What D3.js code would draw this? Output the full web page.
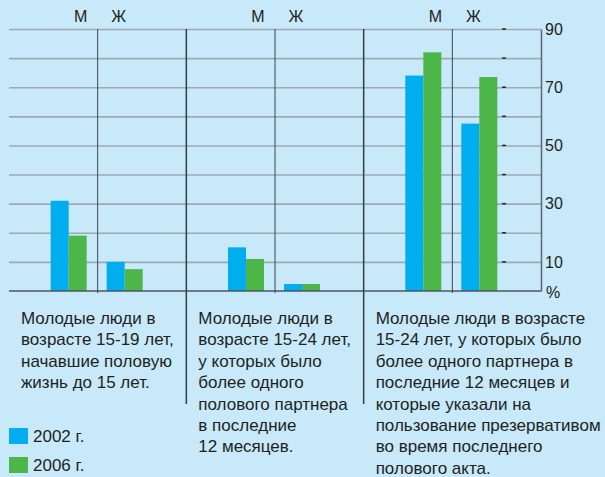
<!DOCTYPE html>
<html>
<head>
<meta charset="utf-8">
<script src="https://cdn.jsdelivr.net/npm/d3@7"></script>
<style>
  body { margin: 0; background: #c7e9f9; }
  svg { display: block; font-family: "Liberation Sans", Arial, sans-serif; }
</style>
</head>
<body>
<script>
// data
var groups = [0, 1, 2];
var sexes = ["М", "Ж"];
var years = ["2002 г.", "2006 г."];
var values2002 = [[31, 10], [15, 2.4], [74, 57.5]];
var values2006 = [[19, 7.5], [11, 2.4], [82, 73.5]];
var yTicks = [10, 30, 50, 70, 90];
var groupText = [
  ["Молодые люди в", "возрасте 15-19 лет,", "начавшие половую", "жизнь до 15 лет."],
  ["Молодые люди в", "возрасте 15-24 лет,", "у которых было", "более одного", "полового партнера", "в последние", "12 месяцев."],
  ["Молодые люди в возрасте", "15-24 лет, у которых было", "более одного партнера в", "последние 12 месяцев и", "которые указали на", "пользование презервативом", "во время последнего", "полового акта."]
];
var colors = ["#00aeef", "#4cb748"];

var svg = d3.select("body").append("svg")
    .attr("width", 605)
    .attr("height", 477);

var x0 = d3.scaleBand().domain(groups).range([9, 541]);
var bw = x0.bandwidth();
var xSex = d3.scalePoint().domain(sexes).range([bw / 2 - 29, bw / 2 + 27]);
var xYear = d3.scaleBand().domain(years).range([-18, 18]);
var y = d3.scaleLinear().domain([0, 90]).range([291, 29]);

var rows = [];
groups.forEach(function(g) {
  sexes.forEach(function(s, j) {
    rows.push({group: g, sex: s, vals: [values2002[g][j], values2006[g][j]]});
  });
});

// grid lines
svg.append("g")
    .attr("class", "grid")
    .attr("transform", "translate(541,0)")
    .call(d3.axisLeft(y).tickValues(d3.range(10, 100, 10)).tickSize(541 - 9).tickFormat(""))
    .call(function(g) { g.select(".domain").remove(); })
    .selectAll("line")
      .attr("stroke", "#9ea9b1")
      .attr("stroke-width", 1.6);

// small dashes near the axis
svg.append("g")
    .selectAll("line")
    .data(d3.range(10, 100, 10))
    .enter().append("line")
      .attr("x1", 502).attr("x2", 506)
      .attr("y1", function(d) { return y(d); })
      .attr("y2", function(d) { return y(d); })
      .attr("stroke", "#2a2a2a")
      .attr("stroke-width", 1.5);

// bars
var bar = svg.append("g").selectAll("g")
    .data(rows)
    .enter().append("g")
      .attr("transform", function(d) { return "translate(" + (x0(d.group) + xSex(d.sex)) + ",0)"; });

bar.selectAll("rect")
    .data(function(d) { return d.vals.map(function(v, i) { return {year: years[i], value: v, i: i}; }); })
    .enter().append("rect")
      .attr("x", function(d) { return xYear(d.year); })
      .attr("width", xYear.bandwidth())
      .attr("y", function(d) { return y(d.value); })
      .attr("height", function(d) { return y(0) - y(d.value); })
      .attr("fill", function(d) { return colors[d.i]; });

// baseline
svg.append("line")
    .attr("x1", 9).attr("x2", 541)
    .attr("y1", y(0)).attr("y2", y(0))
    .attr("stroke", "#4b5560")
    .attr("stroke-width", 1.6);

// dividers between М and Ж
svg.append("g").selectAll("line")
    .data(groups)
    .enter().append("line")
      .attr("x1", function(d) { return x0(d) + bw / 2; })
      .attr("x2", function(d) { return x0(d) + bw / 2; })
      .attr("y1", y(90)).attr("y2", y(0) + 2)
      .attr("stroke", "#3c4650")
      .attr("stroke-width", 1);

// dividers between groups
svg.append("g").selectAll("line")
    .data(groups.slice(1))
    .enter().append("line")
      .attr("x1", function(d) { return x0(d); })
      .attr("x2", function(d) { return x0(d); })
      .attr("y1", y(90)).attr("y2", 404)
      .attr("stroke", "#333d47")
      .attr("stroke-width", 1.5);

// y axis on the right
var yAxis = svg.append("g")
    .attr("transform", "translate(541,0)")
    .call(d3.axisRight(y).tickValues(yTicks).tickSize(0).tickPadding(4));
yAxis.select(".domain").attr("stroke", "#5d6873").attr("stroke-width", 1.5);
yAxis.selectAll("text")
    .attr("fill", "#231f20")
    .style("font-size", "16px")
    .style("font-family", "'Liberation Sans', Arial, sans-serif");

svg.append("text")
    .attr("x", 546).attr("y", y(0) + 1)
    .attr("dy", "0.35em")
    .style("font-size", "16px")
    .attr("fill", "#231f20")
    .text("%");

// М / Ж labels
svg.append("g").selectAll("text")
    .data(rows)
    .enter().append("text")
      .attr("x", function(d) { return x0(d.group) + bw / 2 + (d.sex === "М" ? -17 : 21); })
      .attr("y", 22)
      .attr("text-anchor", "middle")
      .style("font-size", "16px")
      .attr("fill", "#231f20")
      .text(function(d) { return d.sex; });

// group descriptions
svg.append("g").selectAll("text")
    .data(groupText)
    .enter().append("text")
      .attr("x", function(d, i) { return x0(i) + 12; })
      .attr("y", 324)
      .style("font-size", "17px")
      .attr("fill", "#231f20")
      .selectAll("tspan")
      .data(function(d) { return d; })
      .enter().append("tspan")
        .attr("x", function() { return d3.select(this.parentNode).attr("x"); })
        .attr("dy", function(d, i) { return i ? 21.4 : 0; })
        .text(function(d) { return d; });

// legend
var legend = svg.append("g").selectAll("g")
    .data(years)
    .enter().append("g")
      .attr("transform", function(d, i) { return "translate(9," + (428 + i * 29) + ")"; });
legend.append("rect")
    .attr("width", 19).attr("height", 16)
    .attr("fill", function(d, i) { return colors[i]; });
legend.append("text")
    .attr("x", 24).attr("y", 8)
    .attr("dy", "0.35em")
    .style("font-size", "17px")
    .attr("fill", "#231f20")
    .text(function(d) { return d; });
</script>
</body>
</html>
